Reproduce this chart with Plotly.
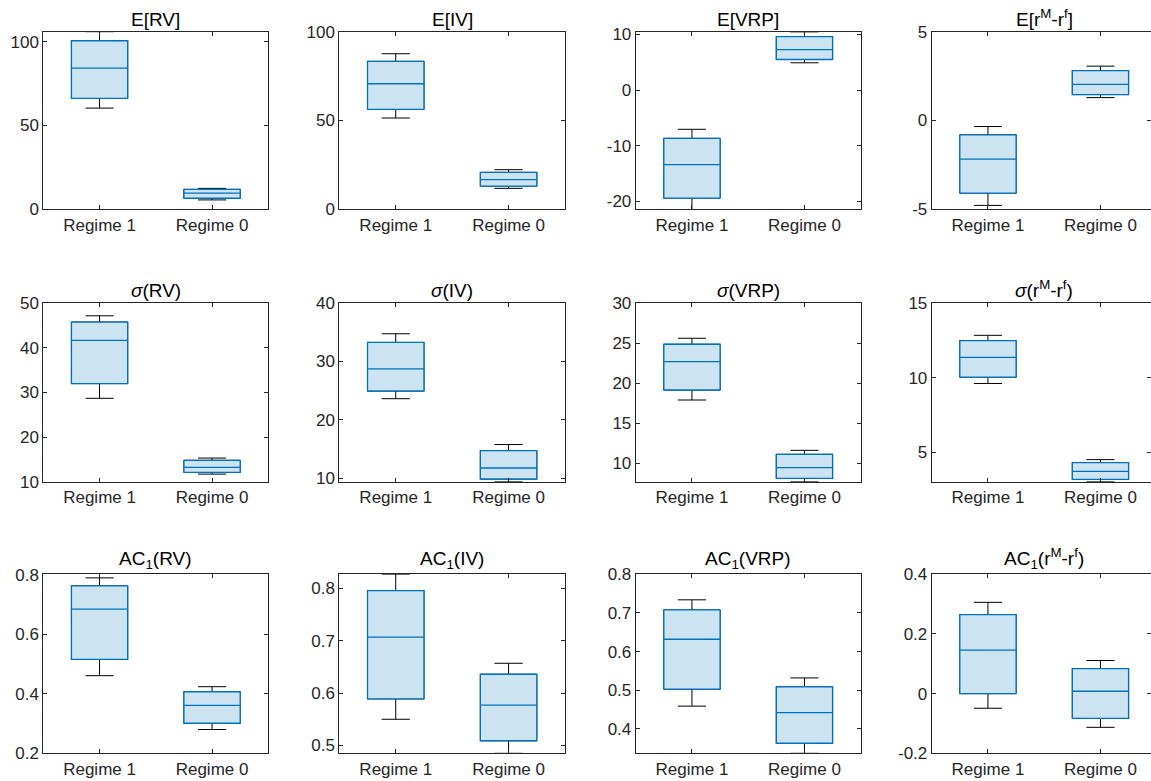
import plotly.graph_objects as go

# ---------------- data ----------------
categories = ["Regime 1", "Regime 0"]

titles = [
    "E[RV]", "E[IV]", "E[VRP]", "E[r<sup>M</sup>-r<sup>f</sup>]",
    "<i>σ</i>(RV)", "<i>σ</i>(IV)", "<i>σ</i>(VRP)", "<i>σ</i>(r<sup>M</sup>-r<sup>f</sup>)",
    "AC<sub>1</sub>(RV)", "AC<sub>1</sub>(IV)", "AC<sub>1</sub>(VRP)",
    "AC<sub>1</sub>(r<sup>M</sup>-r<sup>f</sup>)",
]

upper_whisker = [
    [106.0, 12.5], [87.6, 22.3], [-7.04, 10.45], [-0.34, 3.06],
    [47.2, 15.3], [34.77, 15.75], [25.62, 11.59], [12.85, 4.51],
    [0.790, 0.424], [0.827, 0.657], [0.734, 0.532], [0.306, 0.111],
]
q3 = [
    [100.6, 11.9], [83.3, 20.8], [-8.66, 9.6], [-0.81, 2.81],
    [45.8, 14.8], [33.28, 14.71], [24.87, 11.09], [12.49, 4.31],
    [0.763, 0.407], [0.796, 0.636], [0.708, 0.509], [0.265, 0.084],
]
median = [
    [84.3, 9.7], [70.7, 16.7], [-13.37, 7.28], [-2.18, 2.03],
    [41.7, 13.2], [28.74, 11.72], [22.69, 9.42], [11.37, 3.72],
    [0.685, 0.361], [0.707, 0.577], [0.632, 0.442], [0.146, 0.008],
]
q1 = [
    [66.2, 6.6], [56.3, 13.1], [-19.4, 5.49], [-4.09, 1.46],
    [32.0, 12.1], [24.94, 9.83], [19.14, 8.08], [10.04, 3.18],
    [0.516, 0.301], [0.589, 0.509], [0.503, 0.363], [0.0, -0.083],
]
lower_whisker = [
    [60.4, 5.6], [51.4, 11.8], [-21.5, 4.9], [-4.78, 1.29],
    [28.7, 11.7], [23.62, 9.37], [17.89, 7.66], [9.62, 3.03],
    [0.461, 0.280], [0.550, 0.485], [0.459, 0.337], [-0.049, -0.113],
]

y_ranges = [
    [0, 106], [0, 100], [-21.4, 10.48], [-5, 5],
    [10, 50], [9.37, 40], [7.66, 30], [3.03, 15],
    [0.2, 0.802], [0.485, 0.827], [0.337, 0.8], [-0.2, 0.4],
]
y_ticks = [
    [0, 50, 100], [0, 50, 100], [-20, -10, 0, 10], [-5, 0, 5],
    [10, 20, 30, 40, 50], [10, 20, 30, 40], [10, 15, 20, 25, 30], [5, 10, 15],
    [0.2, 0.4, 0.6, 0.8], [0.5, 0.6, 0.7, 0.8], [0.4, 0.5, 0.6, 0.7, 0.8], [-0.2, 0, 0.2, 0.4],
]

# ---------------- layout geometry (pixels) ----------------
W, H = 1151, 781
col_px = [(43.3, 268.3), (339.3, 565.0), (635.7, 860.7), (931.7, 1156.7)]
row_px = [(31.7, 209.3), (303.3, 481.7), (574.3, 753.3)]

BLUE = "#0072BD"
FILL = "rgb(204,227,242)"
AXC = "rgb(38,38,38)"
FONT = "Liberation Sans, Arial, Helvetica, sans-serif"

fig = go.Figure()
layout = dict(
    template=None,
    width=W, height=H, margin=dict(l=0, r=0, t=0, b=0, autoexpand=False),
    paper_bgcolor="white", plot_bgcolor="white",
    showlegend=False, boxmode="overlay",
    font=dict(family=FONT, size=17, color=AXC),
)
annotations = []

for i in range(12):
    r, c = divmod(i, 4)
    n = "" if i == 0 else str(i + 1)
    xa, ya = "x" + n, "y" + n
    x0, x1 = col_px[c]
    y0, y1 = row_px[r]
    unit = (x1 - x0) / 2.0
    x1c = min(x1, W)
    xr_max = -0.5 + (x1c - x0) / unit

    # black whiskers (full box incl. fences)
    fig.add_trace(go.Box(
        x=categories, q1=q1[i], median=median[i], q3=q3[i],
        lowerfence=lower_whisker[i], upperfence=upper_whisker[i],
        width=0.5, whiskerwidth=0.5, fillcolor="rgba(0,0,0,0)",
        line=dict(color="black", width=1), xaxis=xa, yaxis=ya,
        hoverinfo="skip", boxpoints=False,
    ))
    # blue filled box on top
    fig.add_trace(go.Box(
        x=categories, q1=q1[i], median=median[i], q3=q3[i],
        lowerfence=q1[i], upperfence=q3[i],
        width=0.5, whiskerwidth=0, fillcolor=FILL,
        line=dict(color=BLUE, width=1.3), xaxis=xa, yaxis=ya,
        hoverinfo="skip", boxpoints=False,
    ))

    common = dict(showline=True, linecolor=AXC, linewidth=1, mirror="allticks",
                  ticks="inside", ticklen=4, tickcolor=AXC, tickwidth=1,
                  showgrid=False, zeroline=False, automargin=False,
                  tickfont=dict(family=FONT, size=17, color=AXC))
    layout["xaxis" + n] = dict(
        domain=[x0 / W, x1c / W], anchor=ya, type="category",
        range=[-0.5, xr_max], **common)
    layout["yaxis" + n] = dict(
        domain=[1 - y1 / H, 1 - y0 / H], anchor=xa,
        range=y_ranges[i], tickmode="array", tickvals=y_ticks[i],
        ticktext=[f"{v:g}" for v in y_ticks[i]], **common)

    annotations.append(dict(
        text=titles[i], xref=xa, x=0.5, yref=ya + " domain", y=1.0,
        xanchor="center", yanchor="bottom", yshift=0, showarrow=False,
        font=dict(family=FONT, size=19, color="black"),
    ))

layout["annotations"] = annotations
fig.update_layout(**layout)
fig.write_html(
    "out.html",
    config={"displayModeBar": False, "staticPlot": True},
    post_script="document.body.style.margin='0px';document.body.style.overflow='hidden';",
)
